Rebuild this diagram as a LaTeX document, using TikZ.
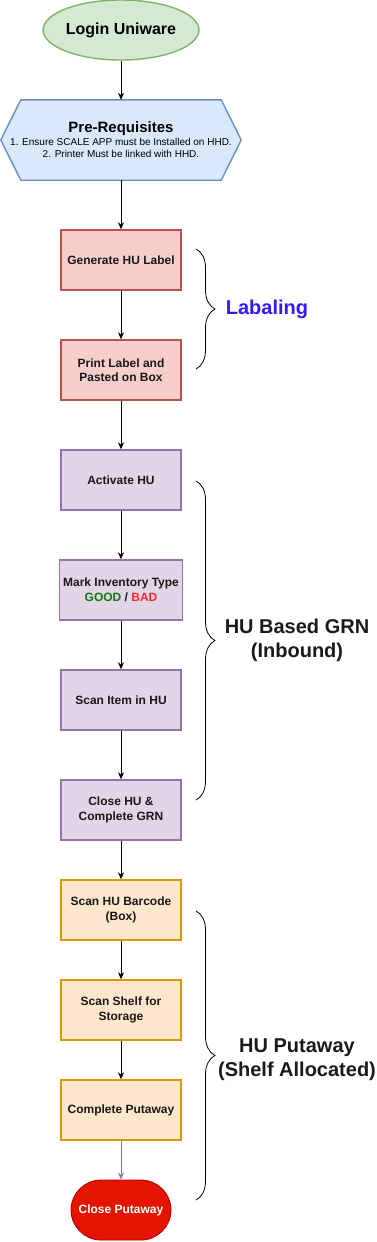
\documentclass[tikz,border=0pt]{standalone}
\usepackage{fontspec}
\setmainfont{Liberation Sans}
\usepackage{tikz}
\usepackage{xcolor}
\usetikzlibrary{positioning, arrows.meta, shapes.geometric, calc, backgrounds, decorations.pathreplacing}
\definecolor{startfill}{HTML}{D5E8D4}
\definecolor{startline}{HTML}{82B366}
\definecolor{prefill}{HTML}{DAE8FC}
\definecolor{preline}{HTML}{6C8EBF}
\definecolor{labfill}{HTML}{F8CECC}
\definecolor{labline}{HTML}{B85450}
\definecolor{grnfill}{HTML}{E1D5E7}
\definecolor{grnline}{HTML}{9673A6}
\definecolor{putfill}{HTML}{FFE6CC}
\definecolor{putline}{HTML}{D79B00}
\definecolor{endfill}{HTML}{E51400}
\definecolor{endline}{HTML}{B20000}
\definecolor{labtext}{HTML}{3319FF}
\definecolor{goodtext}{HTML}{117A11}
\definecolor{badtext}{HTML}{FF2A2A}
\definecolor{phasetext}{HTML}{1A1A1A}
\tikzset{
  stepbox/.style={
    draw, line width=1.4pt, rectangle,
    minimum width=120pt, minimum height=60pt,
    font=\fontsize{12}{14.5}\selectfont\bfseries, align=center,
    text=black!90
  },
  labbox/.style={stepbox, fill=labfill, draw=labline},
  grnbox/.style={stepbox, fill=grnfill, draw=grnline},
  putbox/.style={stepbox, fill=putfill, draw=putline},
  flow/.style={draw, line width=0.8pt, -{Stealth[length=7pt, width=6pt]}},
  phase/.style={decorate, decoration={brace, amplitude=19pt}, line width=0.8pt},
  phasename/.style={font=\fontsize{20}{24}\selectfont\bfseries, align=center, text=phasetext},
}

\begin{document}
\begin{tikzpicture}[x=1pt, y=-1pt]
  \useasboundingbox (0,0) rectangle (376,1242);

  \node[draw=startline, fill=startfill, line width=1.4pt, ellipse,
        minimum width=140pt, minimum height=60pt, inner sep=0pt,
        font=\fontsize{16}{19}\selectfont\bfseries]
                         (login)   at (121,30)   {Login Uniware};
  \node[rectangle, minimum width=240pt, minimum height=80pt, inner sep=0pt, align=center]
                         (prereq)  at (121,140)
    {{\fontsize{15}{18}\selectfont\bfseries Pre-Requisites}\\[1pt]
     {\fontsize{10}{15.5}\selectfont 1. Ensure SCALE APP must be Installed on HHD.}\\
     {\fontsize{10}{15.5}\selectfont 2. Printer Must be linked with HHD.}};
  \begin{scope}[on background layer]
    \filldraw[draw=preline, fill=prefill, line width=1.4pt, line join=round]
      (prereq.west) -- ($(prereq.north west)+(20,0)$) -- ($(prereq.north east)+(-20,0)$)
      -- (prereq.east) -- ($(prereq.south east)+(-20,0)$) -- ($(prereq.south west)+(20,0)$)
      -- cycle;
  \end{scope}

  \node[labbox] (genlabel)  at (121,260)  {Generate HU Label};
  \node[labbox] (printlbl)  at (121,370)  {Print Label and\\Pasted on Box};

  \node[grnbox] (activate)  at (121,480)  {Activate HU};
  \node[grnbox] (invtype)   at (121,590)
    {Mark Inventory Type\\{\color{goodtext}GOOD} / {\color{badtext}BAD}};
  \node[grnbox] (scanitem)  at (121,700)  {Scan Item in HU};
  \node[grnbox] (closehu)   at (121,810)  {Close HU \&\\Complete GRN};

  \node[putbox] (scanbox)   at (121,910)  {Scan HU Barcode\\(Box)};
  \node[putbox] (scanshelf) at (121,1010) {Scan Shelf for\\Storage};
  \node[putbox] (complete)  at (121,1110) {Complete Putaway};

  \node[draw=endline, fill=endfill, line width=0.8pt, rounded corners=30pt,
        minimum width=100pt, minimum height=60pt, inner sep=0pt,
        font=\fontsize{12}{14.5}\selectfont\bfseries, text=white]
                         (closeput) at (121,1210) {Close Putaway};

  \draw[flow] (login)    -- (prereq);
  \draw[flow] (prereq)   -- (genlabel);
  \draw[flow] (genlabel) -- (printlbl);
  \draw[flow] (printlbl) -- (activate);
  \draw[flow] (activate) -- (invtype);
  \draw[flow] (invtype)  -- (scanitem);
  \draw[flow] (scanitem) -- (closehu);
  \draw[flow] (closehu)  -- (scanbox);
  \draw[flow] (scanbox)  -- (scanshelf);
  \draw[flow] (scanshelf) -- (complete);
  \draw[flow, draw=grnline] (complete) -- (closeput);

  % phase brackets
  \draw[phase] (196,249) -- (196,369);
  \node[phasename, text=labtext] (labphase) at (267,309) {Labaling};

  \draw[phase] (196,481) -- (196,800);
  \node[phasename] (grnphase) at (297,640) {HU Based GRN\\(Inbound)};

  \draw[phase] (196,911) -- (196,1200);
  \node[phasename] (putphase) at (297,1060) {HU Putaway\\(Shelf Allocated)};
\end{tikzpicture}
\end{document}
